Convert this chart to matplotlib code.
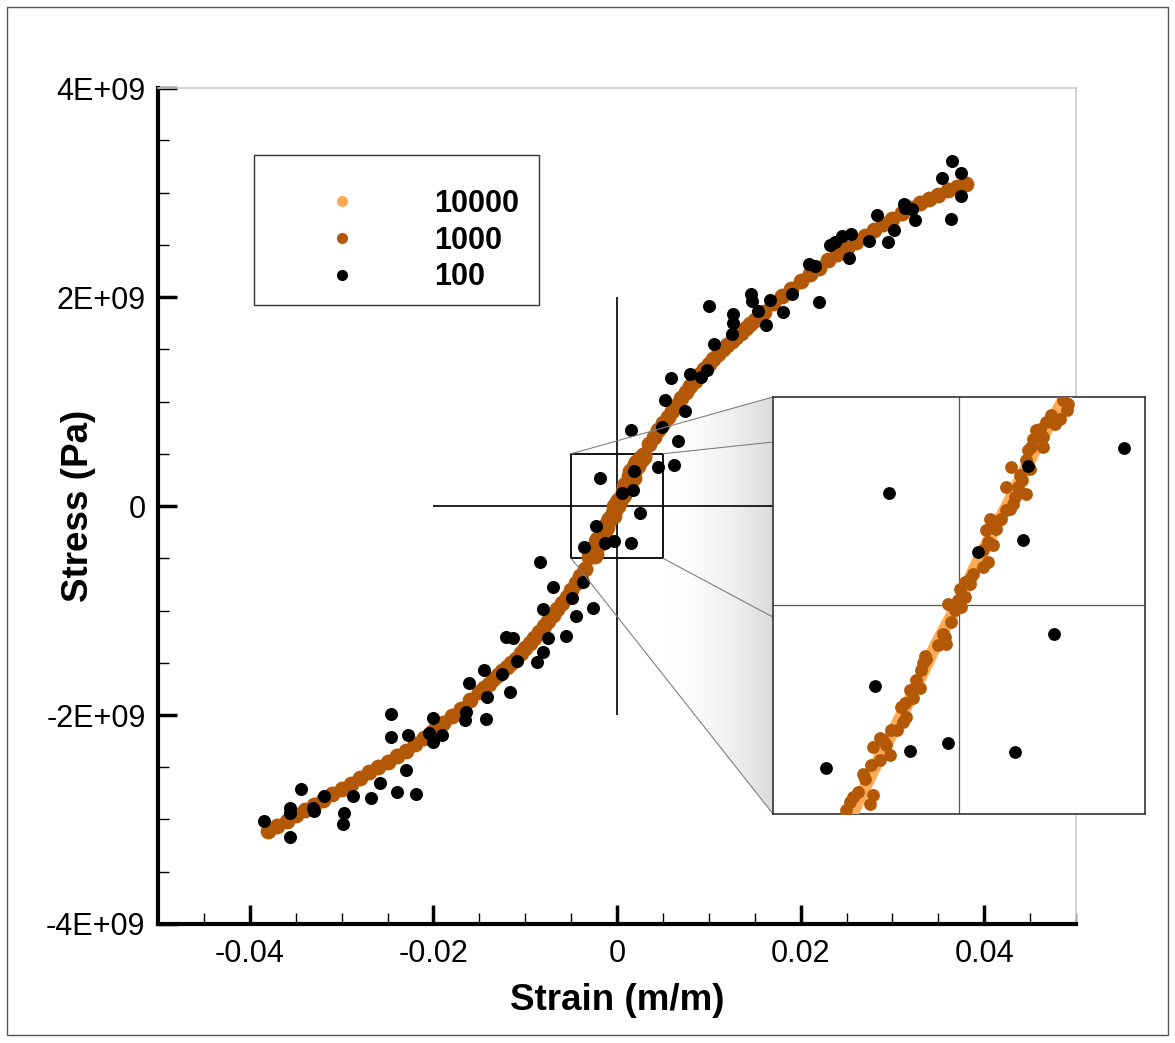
import numpy as np
import matplotlib.pyplot as plt
from matplotlib.ticker import MultipleLocator, FixedLocator, FixedFormatter
from matplotlib.patches import Rectangle, Polygon, ConnectionPatch
from matplotlib.lines import Line2D
from matplotlib.colors import LinearSegmentedColormap

plt.rcParams['font.family'] = ['Liberation Sans', 'DejaVu Sans']
plt.rcParams['axes.unicode_minus'] = False

# series colours / legend
LEGEND_LABELS = ['10000', '1000', '100']
C10K = '#ffaa55'
C1K = '#b35806'
C100 = '#000000'

# stress values below are in units of 1E+09 Pa
# 10000 samples: band centre (mostly hidden in main view)
STRAIN_10K = [-0.0380, -0.0340, -0.0300, -0.0260, -0.0220, -0.0180, -0.0140,
              -0.0100, -0.0070, -0.0045, -0.00285, -0.00204, -0.00124,
              -0.00061, -0.00003, 0.00056, 0.00127, 0.00199, 0.0028, 0.0045,
              0.0070, 0.0100, 0.0140, 0.0180, 0.0220, 0.0260, 0.0300, 0.0340,
              0.0380]
STRESS_10K = [-3.11, -2.91, -2.71, -2.50, -2.28, -2.01, -1.70, -1.36, -1.04,
              -0.74, -0.495, -0.347, -0.211, -0.092, 0.004, 0.116, 0.236,
              0.364, 0.492, 0.73, 1.03, 1.36, 1.70, 2.01, 2.28, 2.53, 2.75,
              2.94, 3.08]

# 1000 samples, left branch (read from main view)
STRAIN_1K_LEFT = [-0.0380, -0.0370, -0.0360, -0.0350, -0.0340, -0.0330, -0.0320,
                  -0.0310, -0.0300, -0.0290, -0.0280, -0.0270, -0.0260, -0.0250,
                  -0.0240, -0.0230, -0.0220, -0.0210, -0.0200, -0.0190, -0.0180,
                  -0.0170, -0.0160, -0.0150, -0.0145, -0.0140, -0.0135, -0.0130,
                  -0.0125, -0.0120, -0.0115, -0.0110, -0.0105, -0.0100, -0.0095,
                  -0.0090, -0.0085, -0.0080, -0.0075, -0.0070, -0.0065, -0.0060,
                  -0.0055, -0.0050, -0.0045, -0.0040, -0.0035]
STRESS_1K_LEFT = [-3.11, -3.06, -3.01, -2.96, -2.91, -2.86, -2.81, -2.76, -2.71,
                  -2.66, -2.60, -2.55, -2.50, -2.45, -2.39, -2.34, -2.28, -2.22,
                  -2.15, -2.08, -2.01, -1.94, -1.86, -1.78, -1.74, -1.70, -1.66,
                  -1.62, -1.58, -1.54, -1.50, -1.46, -1.41, -1.36, -1.31, -1.26,
                  -1.21, -1.15, -1.10, -1.04, -0.99, -0.93, -0.87, -0.80, -0.74,
                  -0.67, -0.60]

# 1000 samples, right branch (read from main view)
STRAIN_1K_RIGHT = [0.0035, 0.0040, 0.0045, 0.0050, 0.0055, 0.0060, 0.0065, 0.0070,
                   0.0075, 0.0080, 0.0085, 0.0090, 0.0095, 0.0100, 0.0105, 0.0110,
                   0.0115, 0.0120, 0.0125, 0.0130, 0.0135, 0.0140, 0.0145, 0.0150,
                   0.0160, 0.0170, 0.0180, 0.0190, 0.0200, 0.0210, 0.0220, 0.0230,
                   0.0240, 0.0250, 0.0260, 0.0270, 0.0280, 0.0290, 0.0300, 0.0310,
                   0.0320, 0.0330, 0.0340, 0.0350, 0.0360, 0.0370, 0.0380]
STRESS_1K_RIGHT = [0.59, 0.66, 0.73, 0.79, 0.85, 0.91, 0.97, 1.03, 1.09, 1.15,
                   1.20, 1.26, 1.31, 1.36, 1.41, 1.45, 1.50, 1.54, 1.58, 1.62,
                   1.66, 1.70, 1.74, 1.78, 1.86, 1.94, 2.01, 2.08, 2.15, 2.22,
                   2.28, 2.35, 2.41, 2.47, 2.53, 2.58, 2.64, 2.70, 2.75, 2.80,
                   2.85, 2.90, 2.94, 2.98, 3.02, 3.05, 3.08]

# 1000 samples near the origin (read from the zoom window)
STRAIN_1K_MID = [0.00280, 0.00293, 0.00289, 0.00271, 0.00248, 0.00235, 0.00257,
                 0.00217, 0.00208, 0.00226, 0.00199, 0.00194, 0.00226, 0.00185,
                 0.00181, 0.00190, 0.00141, 0.00163, 0.00168, 0.00127, 0.00159,
                 0.00181, 0.00150, 0.00145, 0.00136, 0.00127, 0.00114, 0.00082,
                 0.00091, 0.00100, 0.00073, 0.00078, 0.00091, 0.00065, 0.00078,
                 0.00065, 0.00038, 0.00029, 0.00015, 0.00029, 0.00002, 0.00015,
                 -0.00003, -0.00030, 0.00006, -0.00012, -0.00021, -0.00043,
                 -0.00039, -0.00034, -0.00056, -0.00092, -0.00088, -0.00097,
                 -0.00101, -0.00115, -0.00106, -0.00133, -0.00124, -0.00146,
                 -0.00155, -0.00142, -0.00151, -0.00168, -0.00182, -0.00204,
                 -0.00213, -0.00195, -0.00231, -0.00186, -0.00213, -0.00236,
                 -0.00258, -0.00254, -0.00272, -0.00285, -0.00294, -0.00303,
                 -0.00231, -0.00240]
STRESS_1K_MID = [0.492, 0.484, 0.468, 0.448, 0.456, 0.440, 0.436, 0.424, 0.420,
                 0.404, 0.400, 0.380, 0.380, 0.372, 0.348, 0.328, 0.332, 0.312,
                 0.300, 0.284, 0.284, 0.268, 0.260, 0.244, 0.232, 0.228, 0.208,
                 0.208, 0.192, 0.184, 0.180, 0.152, 0.144, 0.132, 0.104, 0.092,
                 0.076, 0.064, 0.056, 0.052, 0.040, 0.020, 0.012, 0.004, -0.004,
                 -0.012, -0.040, -0.068, -0.076, -0.092, -0.096, -0.120, -0.128,
                 -0.139, -0.155, -0.179, -0.199, -0.203, -0.223, -0.235, -0.243,
                 -0.267, -0.279, -0.299, -0.299, -0.323, -0.319, -0.335, -0.339,
                 -0.359, -0.371, -0.383, -0.403, -0.415, -0.447, -0.459, -0.471,
                 -0.491, -0.455, -0.475]

# 100 samples
STRAIN_100 = [-0.03845, -0.03562, -0.03562, -0.03562, -0.03442, -0.03312, -0.03301,
              -0.03192, -0.02974, -0.02985, -0.02876, -0.02680, -0.02582, -0.02462,
              -0.02462, -0.02298, -0.02277, -0.02397, -0.02190, -0.02004, -0.02048,
              -0.02004, -0.01906, -0.01645, -0.01656, -0.01612, -0.01427, -0.01416,
              -0.01166, -0.01449, -0.01253, -0.01209, -0.01133, -0.01089, -0.00871,
              -0.00806, -0.00752, -0.00556, -0.00806, -0.00697, -0.00839, -0.00490,
              -0.00447, -0.00261, -0.00370,
              -0.00188, 0.00444, 0.00185, 0.00172, 0.00051, 0.00255, -0.00225,
              -0.00357, -0.00133, -0.00031, 0.00151,
              0.00523, 0.00741, 0.00153, 0.00490, 0.00664, 0.00621,
              0.00588, 0.00795, 0.00915, 0.00980, 0.01057, 0.01253, 0.01264,
              0.01264, 0.01002, 0.01460, 0.01471, 0.01536, 0.01623, 0.01667,
              0.01808, 0.01906, 0.02200,
              0.02092, 0.02157, 0.02320, 0.02375, 0.02451, 0.02549, 0.02527,
              0.02745, 0.02832, 0.02952, 0.03017, 0.03126, 0.03137, 0.03214,
              0.03246, 0.03540, 0.03649, 0.03747, 0.03747, 0.03638]
STRESS_100 = [-3.014, -3.167, -2.890, -2.938, -2.708, -2.890, -2.919, -2.775,
              -2.938, -3.043, -2.775, -2.794, -2.651, -1.990, -2.211, -2.526,
              -2.191, -2.737, -2.756, -2.029, -2.172, -2.258, -2.191, -1.971,
              -2.048, -1.694, -2.038, -1.828, -1.780, -1.569, -1.608, -1.254,
              -1.263, -1.483, -1.493, -1.397, -1.263, -1.244, -0.986, -0.775,
              -0.536, -0.880, -1.053, -0.976, -0.727,
              0.270, 0.378, 0.335, 0.158, 0.128, -0.068, -0.194, -0.389, -0.350,
              -0.331, -0.351,
              1.014, 0.909, 0.727, 0.756, 0.622, 0.392,
              1.225, 1.263, 1.234, 1.301, 1.550, 1.646, 1.751, 1.837, 1.914,
              2.029, 1.962, 1.866, 1.732, 1.971, 1.856, 2.029, 1.952,
              2.316, 2.297, 2.498, 2.526, 2.584, 2.603, 2.373, 2.536, 2.785,
              2.526, 2.641, 2.890, 2.852, 2.842, 2.737, 3.139, 3.301, 3.187,
              2.967, 2.746]

GPA = 1e9

# axes ranges, ticks, annotation guides
X_LIM = (-0.05, 0.05)
Y_LIM = (-4e9, 4e9)
X_TICKS = [-0.04, -0.02, 0.0, 0.02, 0.04]
X_TICK_LABELS = ['-0.04', '-0.02', '0', '0.02', '0.04']
Y_TICKS = [-4e9, -2e9, 0.0, 2e9, 4e9]
Y_TICK_LABELS = ['-4E+09', '-2E+09', '0', '2E+09', '4E+09']
CROSS_X = (-0.02, 0.02)
CROSS_Y = (-2e9, 2e9)
ZOOM_X = (-0.005, 0.005)
ZOOM_Y = (-0.5e9, 0.5e9)


def draw_data(ax, lw10k, s1k, s100):
    ax.plot(STRAIN_10K, np.array(STRESS_10K) * GPA, '-', color=C10K, lw=lw10k,
            solid_capstyle='round', zorder=3)
    s1k_x = STRAIN_1K_LEFT + STRAIN_1K_MID + STRAIN_1K_RIGHT
    s1k_y = np.array(STRESS_1K_LEFT + STRESS_1K_MID + STRESS_1K_RIGHT) * GPA
    ax.scatter(s1k_x, s1k_y, s=s1k, color=C1K, lw=0, zorder=4)
    ax.scatter(STRAIN_100, np.array(STRESS_100) * GPA, s=s100, color=C100,
               lw=0, zorder=5)


def main():
    fig = plt.figure(figsize=(11.75, 10.43), dpi=100)
    ax = fig.add_axes([0.1345, 0.1141, 0.7813, 0.8015])
    axins = fig.add_axes([0.6579, 0.2196, 0.3166, 0.3998])
    axins.set_zorder(5)

    draw_data(ax, 6, 130, 88)

    # guide cross and zoom window
    ax.vlines(0, CROSS_Y[0], CROSS_Y[1], color='k', lw=1.2, zorder=2)
    ax.hlines(0, CROSS_X[0], CROSS_X[1], color='k', lw=1.2, zorder=2)
    ax.add_patch(Rectangle((ZOOM_X[0], ZOOM_Y[0]), ZOOM_X[1] - ZOOM_X[0],
                           ZOOM_Y[1] - ZOOM_Y[0], fill=False, ec='k', lw=1.3,
                           zorder=2))

    ax.set_xlim(*X_LIM)
    ax.set_ylim(*Y_LIM)

    # shaded "projection" towards the inset
    inv = ax.transData.inverted()
    ix, iy0 = inv.transform(axins.transAxes.transform((0, 0)))
    _, iy1 = inv.transform(axins.transAxes.transform((0, 1)))
    poly = Polygon([(ZOOM_X[0], ZOOM_Y[1]), (ix, iy1), (ix, iy0),
                    (ZOOM_X[0], ZOOM_Y[0])], closed=True, transform=ax.transData)
    xs = np.linspace(0, 1, 300)
    grad = (xs ** 1.8)[None, :]
    cmap = LinearSegmentedColormap.from_list('shade', ['#ffffff', '#dadada'])
    im = ax.imshow(grad, extent=[ZOOM_X[1], ix, iy0, iy1], cmap=cmap, vmin=0,
                   vmax=1, aspect='auto', zorder=1, interpolation='bilinear')
    im.set_clip_path(poly)
    ax.set_xlim(*X_LIM)
    ax.set_ylim(*Y_LIM)

    # axes styling
    ax.spines['left'].set_linewidth(3)
    ax.spines['bottom'].set_linewidth(3)
    for side in ['top', 'right']:
        ax.spines[side].set_color('#cccccc')
        ax.spines[side].set_linewidth(1.2)
    ax.xaxis.set_major_locator(FixedLocator(X_TICKS))
    ax.xaxis.set_major_formatter(FixedFormatter(X_TICK_LABELS))
    ax.yaxis.set_major_locator(FixedLocator(Y_TICKS))
    ax.yaxis.set_major_formatter(FixedFormatter(Y_TICK_LABELS))
    ax.xaxis.set_minor_locator(MultipleLocator(0.005))
    ax.yaxis.set_minor_locator(MultipleLocator(0.5e9))
    ax.tick_params(which='major', direction='in', length=14, width=2.5,
                   labelsize=22)
    ax.tick_params(which='minor', direction='in', length=8, width=1)
    ax.tick_params(axis='x', which='major', pad=11)
    ax.tick_params(axis='y', which='major', pad=9)
    ax.set_xlabel('Strain (m/m)', fontsize=26.5, fontweight='bold')
    ax.set_ylabel('Stress (Pa)', fontsize=26.5, fontweight='bold')
    ax.xaxis.set_label_coords(0.5, -0.070)
    ax.yaxis.set_label_coords(-0.068, 0.5)

    # legend
    handles = [Line2D([], [], ls='', marker='o', ms=8, mew=0, color=c)
               for c in [C10K, C1K, C100]]
    ax.add_patch(Rectangle((0.1046, 0.7404), 0.3104, 0.1795, transform=ax.transAxes,
                           fill=False, ec='#333333', lw=1, zorder=6))
    ax.legend(handles, LEGEND_LABELS, loc='upper left', bbox_to_anchor=(0.184, 0.879),
              frameon=False, borderpad=0, borderaxespad=0, handlelength=1.0,
              handletextpad=2.5, labelspacing=0.215,
              prop={'weight': 'bold', 'size': 22})

    # inset
    draw_data(axins, 9, 85, 85)
    axins.axvline(0, color='#555555', lw=0.9, zorder=2)
    axins.axhline(0, color='#555555', lw=0.9, zorder=2)
    axins.set_xlim(*ZOOM_X)
    axins.set_ylim(*ZOOM_Y)
    axins.set_xticks([])
    axins.set_yticks([])
    for sp in axins.spines.values():
        sp.set_color('#333333')
        sp.set_linewidth(1.2)

    # connector lines from zoom window to inset
    links = [((ZOOM_X[0], ZOOM_Y[1]), (0, 1.0)),
             ((ZOOM_X[1], ZOOM_Y[1]), (0, 0.892)),
             ((ZOOM_X[1], ZOOM_Y[0]), (0, 0.472)),
             ((ZOOM_X[0], ZOOM_Y[0]), (0, 0.0))]
    for pa, pb in links:
        con = ConnectionPatch(xyA=pa, coordsA=ax.transData, xyB=pb,
                              coordsB=axins.transAxes, color='#808080', lw=0.8)
        fig.add_artist(con)

    # outer frame
    fig.add_artist(Rectangle((0.006, 0.0077), 0.988, 0.9856, transform=fig.transFigure,
                             fill=False, ec='#555555', lw=1))

    fig.savefig('out.png', dpi=100)


if __name__ == '__main__':
    main()
